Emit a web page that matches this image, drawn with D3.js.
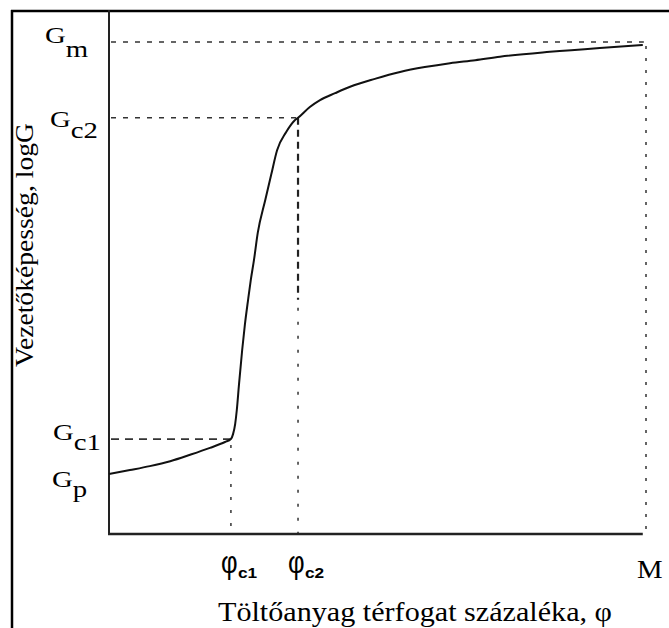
<!DOCTYPE html>
<html>
<head>
<meta charset="utf-8">
<script src="https://cdn.jsdelivr.net/npm/d3@7/dist/d3.min.js"></script>
<style>
  html, body { margin: 0; padding: 0; background: #fff; }
  svg { display: block; }
</style>
</head>
<body>
<svg id="chart" width="669" height="628"></svg>
<script>
// ---- data (filler volume %, log conductivity, arbitrary units) ----
const curvePhi  = [0, 3.9, 7.6, 11.4, 15.1, 18.8, 21.6, 22.7, 23.1, 23.5, 23.8, 24.2, 24.8, 25.3, 25.9, 26.4, 27.0, 27.7, 29.1, 30.2, 31.3, 33.0, 34.6, 35.2, 37.4, 39.3, 42.1, 44.9, 49.5, 54.2, 58.8, 63.5, 68.2, 72.8, 82.1, 91.4, 99.4];
const curveLogG = [12.2, 13.0, 13.8, 14.8, 16.1, 17.5, 18.7, 19.3, 20.3, 22.4, 25.2, 30.3, 37.4, 42.5, 47.6, 51.6, 55.7, 61.2, 67.9, 73.0, 78.0, 81.7, 84.1, 84.6, 86.8, 88.2, 89.6, 90.9, 92.5, 93.9, 94.9, 95.7, 96.3, 97.0, 98.0, 98.8, 99.4];

// y tick labels (G levels)
const gNames   = ["G", "G", "G", "G"];
const gSubs    = ["m", "c2", "c1", "p"];
const gValues  = [100, 84.6, 19.3, 12.2];
// x tick labels (phi levels)
const phiNames  = ["φ", "φ", "M"];
const phiSubs   = ["c1", "c2", ""];
const phiValues = [22.7, 35.2, 100];

const xTitle = "Töltőanyag térfogat százaléka, φ";
const yTitle = "Vezetőképesség, logG";

// ---- layout ----
const svg = d3.select("#chart");
const x = d3.scaleLinear().domain([0, 100]).range([109, 646]);
const y = d3.scaleLinear().domain([0, 100]).range([534, 42]);

// outer frame (top + left)
svg.append("line").attr("x1", 11).attr("x2", 669).attr("y1", 11).attr("y2", 11)
  .attr("stroke", "#000").attr("stroke-width", 2.5);
svg.append("line").attr("x1", 12).attr("x2", 12).attr("y1", 10).attr("y2", 628)
  .attr("stroke", "#000").attr("stroke-width", 2.5);

// guide lines
const gLineStyle = [
  {dash: "5,7", w: 1.6},
  {dash: "5,7", w: 1.6},
  {dash: "8,6", w: 1.8},
  null
];
const gLineEnd = [phiValues[2] - 0.4, phiValues[1], phiValues[0], null];
gValues.forEach((v, i) => {
  const st = gLineStyle[i];
  if (!st) return;
  svg.append("line")
    .attr("x1", x(0) + 2).attr("x2", x(gLineEnd[i]))
    .attr("y1", y(v)).attr("y2", y(v))
    .attr("stroke", "#333").attr("stroke-width", st.w)
    .attr("stroke-dasharray", st.dash);
});

// vertical guides
svg.append("line")
  .attr("x1", x(phiValues[0])).attr("x2", x(phiValues[0]))
  .attr("y1", y(gValues[2]) + 6).attr("y2", y(0))
  .attr("stroke", "#555").attr("stroke-width", 1.8).attr("stroke-dasharray", "3,10");
const splitV = 47.6;
svg.append("line")
  .attr("x1", x(phiValues[1])).attr("x2", x(phiValues[1]))
  .attr("y1", y(gValues[1])).attr("y2", y(splitV))
  .attr("stroke", "#222").attr("stroke-width", 2.2).attr("stroke-dasharray", "7,5");
svg.append("line")
  .attr("x1", x(phiValues[1])).attr("x2", x(phiValues[1]))
  .attr("y1", y(splitV) + 8).attr("y2", y(0))
  .attr("stroke", "#555").attr("stroke-width", 1.8).attr("stroke-dasharray", "3,11");
svg.append("line")
  .attr("x1", x(phiValues[2])).attr("x2", x(phiValues[2]))
  .attr("y1", y(gValues[0]) + 4).attr("y2", y(0))
  .attr("stroke", "#555").attr("stroke-width", 1.8).attr("stroke-dasharray", "3,9");

// axes
svg.append("line").attr("x1", x(0)).attr("x2", x(0)).attr("y1", 10).attr("y2", y(0) + 1)
  .attr("stroke", "#222").attr("stroke-width", 2);
svg.append("line").attr("x1", x(0) - 1).attr("x2", x(99.4)).attr("y1", y(0)).attr("y2", y(0))
  .attr("stroke", "#222").attr("stroke-width", 2.5);

// curve
const pts = curvePhi.map((p, i) => [p, curveLogG[i]]);
svg.append("path")
  .datum(pts)
  .attr("fill", "none").attr("stroke", "#111").attr("stroke-width", 2)
  .attr("d", d3.line().x(d => x(d[0])).y(d => y(d[1])).curve(d3.curveMonotoneX));

// y labels (G levels)
const gLabelPos = [
  {lx: 45, dy: 1, sub: 14},
  {lx: 50, dy: 9, sub: 11},
  {lx: 53, dy: 1, sub: 10},
  {lx: 52, dy: 13, sub: 10}
];
gValues.forEach((v, i) => {
  const p = gLabelPos[i];
  const t = svg.append("text")
    .attr("transform", `translate(${p.lx},${y(v) + p.dy}) scale(1.2,1)`)
    .attr("font-family", "Liberation Serif, Times New Roman, serif")
    .attr("font-size", 24).attr("fill", "#000");
  t.append("tspan").text(gNames[i]);
  t.append("tspan").attr("dy", p.sub).text(gSubs[i]);
});

// x labels
phiValues.forEach((v, i) => {
  if (phiNames[i] === "M") {
    svg.append("text")
      .attr("transform", `translate(${x(v) - 9},578) scale(1.15,1)`)
      .attr("font-family", "Liberation Serif, Times New Roman, serif")
      .attr("font-size", 25).attr("fill", "#000").text(phiNames[i]);
  } else {
    const g = svg.append("g").attr("transform", `translate(${x(v) - 10},0)`);
    g.append("text")
      .attr("transform", "translate(0,573) scale(0.8,1)")
      .attr("font-family", "Liberation Sans, Arial, sans-serif")
      .attr("font-size", 32).attr("fill", "#000").text(phiNames[i]);
    g.append("text")
      .attr("transform", "translate(17,578) scale(1.15,1)")
      .attr("font-family", "Liberation Sans, Arial, sans-serif")
      .attr("font-weight", "bold")
      .attr("font-size", 15).attr("fill", "#000").text(phiSubs[i]);
  }
});

// axis titles
svg.append("text")
  .attr("x", 218).attr("y", 621)
  .attr("font-family", "Liberation Serif, Times New Roman, serif")
  .attr("font-size", 27).attr("fill", "#000")
  .attr("textLength", 394).attr("lengthAdjust", "spacingAndGlyphs")
  .text(xTitle);

svg.append("text")
  .attr("transform", "translate(33,367) rotate(-90)")
  .attr("font-family", "Liberation Serif, Times New Roman, serif")
  .attr("font-size", 25).attr("fill", "#000")
  .attr("textLength", 244).attr("lengthAdjust", "spacingAndGlyphs")
  .text(yTitle);
</script>
</body>
</html>
